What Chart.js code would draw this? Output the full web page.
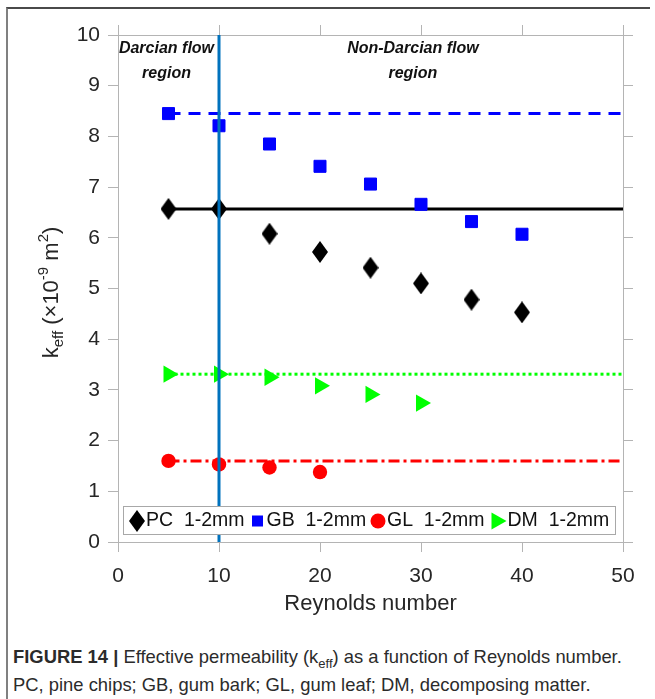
<!DOCTYPE html>
<html>
<head>
<meta charset="utf-8">
<script src="https://cdn.jsdelivr.net/npm/chart.js@4/dist/chart.umd.min.js"></script>
<style>
  html, body { margin: 0; padding: 0; background: #fff; }
  body { width: 655px; height: 699px; position: relative; overflow: hidden;
         font-family: "Liberation Sans", Arial, sans-serif; }
  #frame { position: absolute; left: 6px; top: 7px; width: 642px; height: 700px;
           border-left: 2px solid #808080; border-top: 2px solid #4a4a4a; }
  #plot { position: absolute; left: 0; top: 0; }
  #caption { position: absolute; left: 13px; top: 643px; font-size: 18.4px; line-height: 28px;
             color: #2b2b2b; white-space: nowrap; }
  #caption sub { font-size: 13px; line-height: 0; }
</style>
</head>
<body>
<div id="frame"></div>
<canvas id="plot" width="655" height="630"></canvas>
<div id="caption"><b>FIGURE 14 |</b> Effective permeability (k<sub>eff</sub>) as a function of Reynolds number.<br>PC, pine chips; GB, gum bark; GL, gum leaf; DM, decomposing matter.</div>

<script>
"use strict";

// measured permeability vs Reynolds number
const reynolds   = [5, 10, 15, 20, 25, 30, 35, 40];
const pcValues   = [6.57, 6.57, 6.08, 5.72, 5.41, 5.10, 4.78, 4.53];
const gbValues   = [8.45, 8.21, 7.85, 7.41, 7.06, 6.66, 6.32, 6.07];
const glReynolds = [5, 10, 15, 20];
const glValues   = [1.60, 1.53, 1.47, 1.38];
const dmReynolds = [5, 10, 15, 20, 25, 30];
const dmValues   = [3.31, 3.31, 3.25, 3.08, 2.91, 2.74];

// Darcian (constant) permeability of each material
const pcDarcy = 6.57;
const gbDarcy = 8.45;
const glDarcy = 1.60;
const dmDarcy = 3.31;

// end of the Darcian flow region
const darcyLimit = 10;

const xTicks = [0, 10, 20, 30, 40, 50];
const yTicks = [0, 1, 2, 3, 4, 5, 6, 7, 8, 9, 10];
const legendLabels = ["PC  1-2mm", "GB  1-2mm", "GL  1-2mm", "DM  1-2mm"];

const FONT = "'Liberation Sans', Arial, sans-serif";
const AXIS_GRAY = "#b4b4b4";
const TEXT = "#262626";

Chart.defaults.font.family = FONT;

function diamond(w, h, color) {
    const c = document.createElement("canvas");
    c.width = w; c.height = h;
    const g = c.getContext("2d");
    g.fillStyle = color;
    g.beginPath();
    g.moveTo(w / 2, 0); g.lineTo(w, h / 2); g.lineTo(w / 2, h); g.lineTo(0, h / 2);
    g.closePath();
    g.fill();
    return c;
}
const diamondMark = diamond(16, 22, "#000");

function points(xs, ys) {
    return xs.map((x, i) => ({x: x, y: ys[i]}));
}
function level(y) {
    return [{x: 5, y: y}, {x: 50, y: y}];
}

// legend marks drawn by hand so they can sit inside the axes
function drawMark(ctx, kind, x, y) {
    ctx.save();
    if (kind === 0) {
        ctx.drawImage(diamondMark, x - 8, y - 11);
    } else if (kind === 1) {
        ctx.fillStyle = "#0000ff";
        ctx.fillRect(x - 5.5, y - 5.5, 11, 11);
    } else if (kind === 2) {
        ctx.fillStyle = "#ff0000";
        ctx.beginPath(); ctx.arc(x, y, 7.5, 0, Math.PI * 2); ctx.fill();
    } else {
        ctx.fillStyle = "#00ff00";
        ctx.beginPath();
        ctx.moveTo(x - 7, y - 8.5); ctx.lineTo(x + 8, y); ctx.lineTo(x - 7, y + 8.5);
        ctx.closePath(); ctx.fill();
    }
    ctx.restore();
}

const overlay = {
    id: "overlay",
    afterDatasetsDraw(chart) {
        const ctx = chart.ctx;
        const a = chart.chartArea;

        // flow region labels
        ctx.save();
        ctx.fillStyle = "#111";
        ctx.font = "italic bold 16px " + FONT;
        ctx.textAlign = "center";
        ctx.textBaseline = "middle";
        const xs = chart.scales.x;
        const dx = xs.getPixelForValue(4.8), ndx = xs.getPixelForValue(29.2);
        ctx.fillText("Darcian flow", dx, a.top + 14);
        ctx.fillText("region", dx, a.top + 39);
        ctx.fillText("Non-Darcian flow", ndx, a.top + 14);
        ctx.fillText("region", ndx, a.top + 39);
        ctx.restore();

        // legend box
        ctx.save();
        const bx = a.left + 5, by = a.bottom - 36, bw = a.right - a.left - 13, bh = 28;
        ctx.fillStyle = "#fff";
        ctx.fillRect(bx, by, bw, bh);
        ctx.strokeStyle = "#a8a8a8";
        ctx.lineWidth = 1;
        ctx.strokeRect(bx + 0.5, by + 0.5, bw, bh);
        ctx.font = "19.5px " + FONT;
        ctx.fillStyle = "#111";
        ctx.textBaseline = "middle";
        legendLabels.forEach((label, i) => {
            const x0 = bx + 6 + i * 120.5;
            drawMark(ctx, i, x0 + 8, by + bh / 2 + 1);
            ctx.fillText(label, x0 + 17, by + bh / 2 + 1);
        });
        ctx.restore();
    },
    afterDraw(chart) {
        const ctx = chart.ctx;
        const a = chart.chartArea;

        // x axis title
        ctx.save();
        ctx.fillStyle = TEXT;
        ctx.font = "22px " + FONT;
        ctx.textAlign = "center";
        ctx.textBaseline = "middle";
        ctx.fillText("Reynolds number", (a.left + a.right) / 2, a.bottom + 62);
        ctx.restore();

        // y axis title with sub/superscripts
        const parts = [
            {t: "k", size: 22, dy: 0},
            {t: "eff", size: 15, dy: 5},
            {t: " (\u00d710", size: 22, dy: 0},
            {t: "-9", size: 15, dy: -10},
            {t: " m", size: 22, dy: 0},
            {t: "2", size: 15, dy: -10},
            {t: ")", size: 22, dy: 0}
        ];
        ctx.save();
        ctx.fillStyle = TEXT;
        ctx.textBaseline = "alphabetic";
        let total = 0;
        parts.forEach(p => {
            ctx.font = p.size + "px " + FONT;
            p.w = ctx.measureText(p.t).width;
            total += p.w;
        });
        ctx.translate(58, (a.top + a.bottom) / 2 + 4);
        ctx.rotate(-Math.PI / 2);
        let cx = -total / 2;
        parts.forEach(p => {
            ctx.font = p.size + "px " + FONT;
            ctx.fillText(p.t, cx, p.dy);
            cx += p.w;
        });
        ctx.restore();
    }
};

function axis(position, withLabels, size) {
    const horizontal = position === "bottom" || position === "top";
    const values = horizontal ? xTicks : yTicks;
    return {
        type: "linear",
        position: position,
        min: values[0],
        max: values[values.length - 1],
        afterBuildTicks: s => { s.ticks = values.map(v => ({value: v})); },
        afterFit: s => { if (horizontal) s.height = size; else s.width = size; },
        grid: {drawOnChartArea: false, color: AXIS_GRAY, tickLength: 10, lineWidth: 1},
        border: {color: AXIS_GRAY, width: 1},
        ticks: {
            display: withLabels,
            color: TEXT,
            font: {size: 21, family: FONT},
            padding: horizontal ? 12 : 8,
            maxRotation: 0,
            autoSkip: false
        }
    };
}

new Chart(document.getElementById("plot"), {
    type: "scatter",
    data: {
        datasets: [
            {label: "darcy limit", data: [{x: darcyLimit, y: 0}, {x: darcyLimit, y: 10}],
             showLine: true, borderColor: "#0072bd", borderWidth: 3, pointRadius: 0, order: 0},

            {label: "PC 1-2mm", data: points(reynolds, pcValues),
             pointStyle: diamondMark, pointRadius: 8, order: 1},
            {label: "GB 1-2mm", data: points(reynolds, gbValues),
             pointStyle: "rect", pointRadius: 8.5, backgroundColor: "#0000ff",
             borderColor: "#0000ff", borderWidth: 1, order: 1},
            {label: "GL 1-2mm", data: points(glReynolds, glValues),
             pointStyle: "circle", pointRadius: 7.2, backgroundColor: "#ff0000",
             borderColor: "#ff0000", borderWidth: 0, order: 1},
            {label: "DM 1-2mm", data: points(dmReynolds, dmValues),
             pointStyle: "triangle", pointRotation: 90, pointRadius: 10,
             backgroundColor: "#00ff00", borderColor: "#00ff00", borderWidth: 0, order: 1},

            {label: "PC Darcy", data: level(pcDarcy), showLine: true, pointRadius: 0,
             borderColor: "#000", borderWidth: 3, order: 2},
            {label: "GB Darcy", data: level(gbDarcy), showLine: true, pointRadius: 0,
             borderColor: "#0000ff", borderWidth: 3, borderDash: [12, 8], order: 2},
            {label: "GL Darcy", data: level(glDarcy), showLine: true, pointRadius: 0,
             borderColor: "#ff0000", borderWidth: 3, borderDash: [11, 4, 3, 4], order: 2},
            {label: "DM Darcy", data: level(dmDarcy), showLine: true, pointRadius: 0,
             borderColor: "#00ff00", borderWidth: 3, borderDash: [3, 3], order: 2}
        ]
    },
    options: {
        responsive: false,
        animation: false,
        events: [],
        layout: {padding: 0},
        plugins: {legend: {display: false}, tooltip: {enabled: false}},
        scales: {
            x: axis("bottom", true, 88),
            x2: axis("top", false, 35),
            y: axis("left", true, 118),
            y2: axis("right", false, 32)
        }
    },
    plugins: [overlay]
});
</script>
</body>
</html>
